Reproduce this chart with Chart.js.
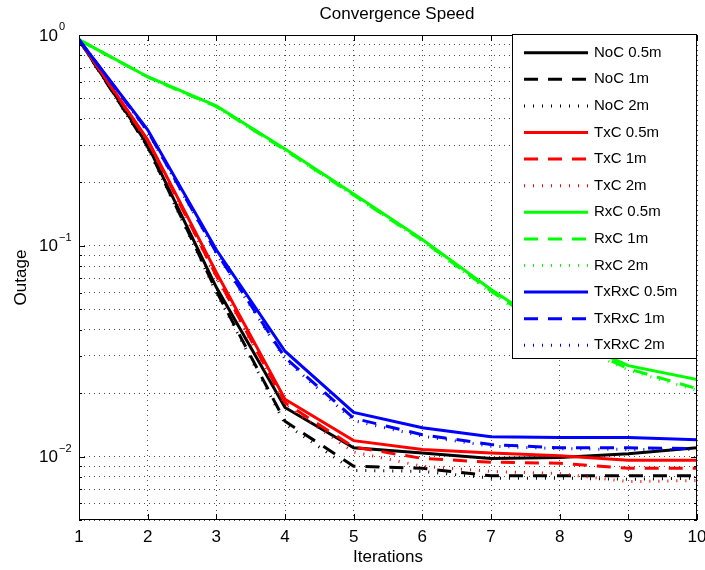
<!DOCTYPE html>
<html>
<head>
<meta charset="utf-8">
<title>Convergence Speed</title>
<script src="https://cdn.jsdelivr.net/npm/chart.js"></script>
<style>
  body { margin: 0; background: #fff; }
  canvas { display: block; }
</style>
</head>
<body>
<canvas id="graficoConvergencia" width="705" height="570"></canvas>
<script>
// dados
const iteracoes = [1, 2, 3, 4, 5, 6, 7, 8, 9, 10];

const noc05 = [0.95, 0.300, 0.0635, 0.0171, 0.0110, 0.0104, 0.0098, 0.0099, 0.0103, 0.0110];
const noc1  = [0.95, 0.295, 0.0610, 0.0147, 0.0090, 0.0088, 0.0081, 0.0081, 0.0081, 0.0081];
const noc2  = [0.95, 0.292, 0.0600, 0.0143, 0.0086, 0.0085, 0.0079, 0.0079, 0.0078, 0.0079];

const txc05 = [0.95, 0.318, 0.0748, 0.0187, 0.0119, 0.0108, 0.0104, 0.0101, 0.0096, 0.0096];
const txc1  = [0.95, 0.315, 0.0720, 0.0180, 0.0111, 0.0098, 0.0094, 0.0093, 0.0088, 0.0088];
const txc2  = [0.95, 0.312, 0.0710, 0.0176, 0.0105, 0.0090, 0.0085, 0.0083, 0.0076, 0.0077];

const rxc05 = [0.95, 0.634, 0.461, 0.288, 0.176, 0.107, 0.062, 0.0380, 0.0270, 0.0232];
const rxc1  = [0.95, 0.632, 0.458, 0.285, 0.174, 0.106, 0.061, 0.0368, 0.0261, 0.0210];
const rxc2  = [0.95, 0.630, 0.455, 0.283, 0.173, 0.105, 0.060, 0.0362, 0.0257, 0.0206];

const txrxc05 = [0.95, 0.355, 0.0957, 0.0316, 0.0162, 0.0137, 0.0124, 0.0123, 0.0123, 0.0120];
const txrxc1  = [0.95, 0.350, 0.0930, 0.0295, 0.0152, 0.0127, 0.0114, 0.0110, 0.0110, 0.0109];
const txrxc2  = [0.95, 0.348, 0.0920, 0.0290, 0.0148, 0.0125, 0.0112, 0.0109, 0.0108, 0.0108];

const rotulos = ['NoC 0.5m', 'NoC 1m', 'NoC 2m', 'TxC 0.5m', 'TxC 1m', 'TxC 2m',
                 'RxC 0.5m', 'RxC 1m', 'RxC 2m', 'TxRxC 0.5m', 'TxRxC 1m', 'TxRxC 2m'];
const valores = [noc05, noc1, noc2, txc05, txc1, txc2, rxc05, rxc1, rxc2, txrxc05, txrxc1, txrxc2];

// marcas do eixo y (log): decadas e subdivisoes
const yDecadas = [1, 0.1, 0.01];
const yTicks = [0.005, 0.006, 0.007, 0.008, 0.009,
                0.01, 0.02, 0.03, 0.04, 0.05, 0.06, 0.07, 0.08, 0.09,
                0.1, 0.2, 0.3, 0.4, 0.5, 0.6, 0.7, 0.8, 0.9, 1];

const cores = ['#000000', '#ff0000', '#00ff00', '#0000ff'];
const tracos = [[], [14, 10], [1, 8]];
const fonte = '"Liberation Sans", Arial, Helvetica, sans-serif';

const datasets = valores.map((serie, i) => ({
    label: rotulos[i],
    data: serie.map((v, k) => ({ x: iteracoes[k], y: v })),
    borderColor: cores[Math.floor(i / 3)],
    borderWidth: 3,
    borderDash: tracos[i % 3],
    pointRadius: 0,
    fill: false,
    tension: 0,
    order: valores.length - i
}));

// moldura, marcas internas, rotulos 10^n, titulo e legenda estilo MATLAB
const molduraPlugin = {
    id: 'moldura',
    afterDraw(chart) {
        const { ctx, chartArea: a, scales: { x, y } } = chart;
        ctx.save();
        ctx.strokeStyle = '#000';
        ctx.lineWidth = 1;
        ctx.setLineDash([]);
        ctx.strokeRect(a.left + 0.5, a.top + 0.5, a.right - a.left - 1, a.bottom - a.top - 1);

        ctx.beginPath();
        iteracoes.forEach(v => {
            const px = Math.round(x.getPixelForValue(v)) + 0.5;
            ctx.moveTo(px, a.bottom); ctx.lineTo(px, a.bottom - 6);
            ctx.moveTo(px, a.top); ctx.lineTo(px, a.top + 6);
        });
        yTicks.forEach(v => {
            const py = Math.round(y.getPixelForValue(v)) + 0.5;
            const len = yDecadas.includes(v) ? 6 : 3;
            ctx.moveTo(a.left, py); ctx.lineTo(a.left + len, py);
            ctx.moveTo(a.right, py); ctx.lineTo(a.right - len, py);
        });
        ctx.stroke();

        // rotulos do eixo y
        ctx.fillStyle = '#000';
        ctx.textAlign = 'left';
        ctx.textBaseline = 'middle';
        yDecadas.forEach(v => {
            const py = y.getPixelForValue(v);
            const exp = Math.round(Math.log10(v));
            ctx.font = '17px ' + fonte;
            ctx.fillText('10', 39, py + 1);
            ctx.font = '11px ' + fonte;
            ctx.fillText(exp < 0 ? '\u2212' + (-exp) : String(exp), 59, py - 8);
        });

        // titulo
        ctx.font = '17px ' + fonte;
        ctx.textAlign = 'center';
        ctx.fillText('Convergence Speed', 397, 14);

        // legenda
        const lx = 512, ly = 35, lw = 184, lh = 324;
        ctx.fillStyle = '#fff';
        ctx.fillRect(lx, ly, lw, lh);
        ctx.strokeStyle = '#000';
        ctx.lineWidth = 1;
        ctx.strokeRect(lx + 0.5, ly - 0.5, lw, lh);
        ctx.font = '15px ' + fonte;
        ctx.textAlign = 'left';
        chart.data.datasets.forEach((ds, i) => {
            const ry = 52.7 + i * 26.6;
            ctx.strokeStyle = ds.borderColor;
            ctx.lineWidth = ds.borderWidth;
            ctx.setLineDash(ds.borderDash);
            ctx.beginPath();
            ctx.moveTo(524, ry);
            ctx.lineTo(588, ry);
            ctx.stroke();
            ctx.fillStyle = '#000';
            ctx.fillText(ds.label, 594, ry);
        });
        ctx.restore();
    }
};

document.addEventListener('DOMContentLoaded', function () {
    const ctx = document.getElementById('graficoConvergencia').getContext('2d');
    new Chart(ctx, {
        type: 'line',
        data: { datasets: datasets },
        options: {
            responsive: false,
            animation: false,
            layout: { padding: { top: 35, right: 0, bottom: 0, left: 0 } },
            plugins: {
                legend: { display: false },
                title: { display: false },
                tooltip: { enabled: false }
            },
            scales: {
                x: {
                    type: 'linear',
                    min: 1,
                    max: 10,
                    ticks: {
                        stepSize: 1,
                        color: '#000',
                        padding: 7,
                        font: { size: 17, family: fonte }
                    },
                    grid: { color: 'rgba(0,0,0,0.7)', lineWidth: 1, drawTicks: false },
                    border: { display: false, dash: [1, 4] },
                    title: {
                        display: true,
                        text: 'Iterations',
                        color: '#000',
                        font: { size: 17, family: fonte },
                        padding: { top: 0, bottom: 2 }
                    },
                    afterFit(scale) {
                        scale.height = 50;
                        scale.paddingLeft = 0;
                        scale.paddingRight = 8;
                    }
                },
                y: {
                    type: 'logarithmic',
                    min: 0.005,
                    max: 1,
                    afterBuildTicks(scale) {
                        scale.ticks = yTicks.map(v => ({ value: v }));
                    },
                    ticks: { display: false },
                    grid: { color: 'rgba(0,0,0,0.7)', lineWidth: 1, drawTicks: false },
                    border: { display: false, dash: [1, 4] },
                    title: {
                        display: true,
                        text: 'Outage',
                        color: '#000',
                        font: { size: 17, family: fonte },
                        padding: { top: 11, bottom: 0 }
                    },
                    afterFit(scale) {
                        scale.width = 79;
                    }
                }
            }
        },
        plugins: [molduraPlugin]
    });
});
</script>
</body>
</html>
